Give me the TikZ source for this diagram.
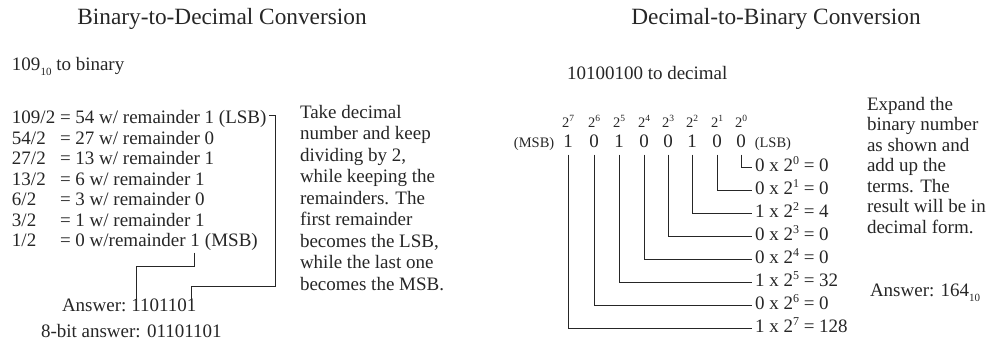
\documentclass[tikz,border=0pt]{standalone}
\usepackage{fontspec}
\setmainfont{Liberation Serif}
\usetikzlibrary{positioning,calc}

\begin{document}
\begin{tikzpicture}[x=1pt, y=-1pt, line join=miter,
  every node/.style={inner sep=0pt, outer sep=0pt, text=black!85},
  title/.style={font=\fontsize{23.3}{26}\selectfont},
  body/.style={font=\fontsize{19}{22}\selectfont, anchor=west, text height=13pt, text depth=4pt},
  note/.style={font=\fontsize{19}{21.5}\selectfont, anchor=north west, align=left},
  small/.style={font=\fontsize{14.5}{16}\selectfont},
  wire/.style={line width=1pt, black!85}]
% ---------- frame ----------
\useasboundingbox (0,0) rectangle (998,342);
\newcommand{\sbten}{\raisebox{-5pt}{\fontsize{11}{11}\selectfont 10}}

% ---------- titles ----------
\node[title] (tleft) at (222,19) {Binary-to-Decimal Conversion};
\node[title] (tright) at (776,19) {Decimal-to-Binary Conversion};

% ---------- decimal to binary (left) ----------
\node[body] (dq) at (12,66) {109\sbten{} to binary};

\foreach \a/\b [count=\i] in {{109/2}/{= 54 w/ remainder 1 (LSB)},
    {54/2}/{= 27 w/ remainder 0}, {27/2}/{= 13 w/ remainder 1},
    {13/2}/{= 6 w/ remainder 1}, {6/2}/{= 3 w/ remainder 0},
    {3/2}/{= 1 w/ remainder 1}} {
  \node[body] (dv\i) at (12,98.5+20.5*\i) {\a};
  \node[body] (rm\i) at (60,98.5+20.5*\i) {\b};
}
\node[body] (dv7) at (12,242) {1/2};
\node[body] (rm7) at (60,242) {= 0 w/remainder 1};
\node[body, right=5pt of rm7] (msb) {(MSB)};

\node[body] (ansl) at (62,307) {Answer:};
\node[body, right=5pt of ansl] (ansbits) {1101101};
\node[body] (eight) at (41,333) {8-bit answer: 01101101};

% brackets to the answer
\draw[wire] ($(rm1.east)+(3,-3)$) -- ++(6,0)
  |- ($(ansbits.north east)+(-5,-12)$) -- ($(ansbits.north east)+(-5,0)$);
\draw[wire] ($(rm7.south east)+(-5,2)$) -- ++(0,14)
  -| ($(ansbits.north west)+(5,0)$);

\node[note] (lnote) at (300,105) {Take decimal\\number and keep\\dividing by 2,\\while keeping the\\remainders. The\\first remainder\\becomes the LSB,\\while the last one\\becomes the MSB.};

% ---------- binary to decimal (right) ----------
\node[body] (bq) at (567,75) {10100100 to decimal};

\foreach \xx/\b/\p/\v in {568/1/7/128, 594/0/6/0, 619/1/5/32, 644/0/4/0,
    668/0/3/0, 692/1/2/4, 717/0/1/0, 741/0/0/0} {
  \node[small] (pw\p) at (\xx,121) {2\raisebox{6pt}{\fontsize{9.5}{9.5}\selectfont\p}};
  \node[body, anchor=center] (bit\p) at (\xx,143) {\b};
  \node[body] (term\p) at (755,167+23*\p)
    {\b\ x 2\raisebox{7pt}{\fontsize{12}{12}\selectfont\p}\ = \v};
  \draw[wire, shorten >=3pt] (bit\p.south) ++(0,3) |- (term\p.west);
}
\node[small, base left=9pt of bit7] (msbl) {(MSB)};
\node[small, base right=9pt of bit0] (lsbl) {(LSB)};

\node[note, font=\fontsize{19}{20.5}\selectfont] (rnote) at (867,97) {Expand the\\binary number\\as shown and\\add up the\\terms. The\\result will be in\\decimal form.};
\node[body] (ansr) at (870,292) {Answer: 164\sbten};

\end{tikzpicture}
\end{document}
